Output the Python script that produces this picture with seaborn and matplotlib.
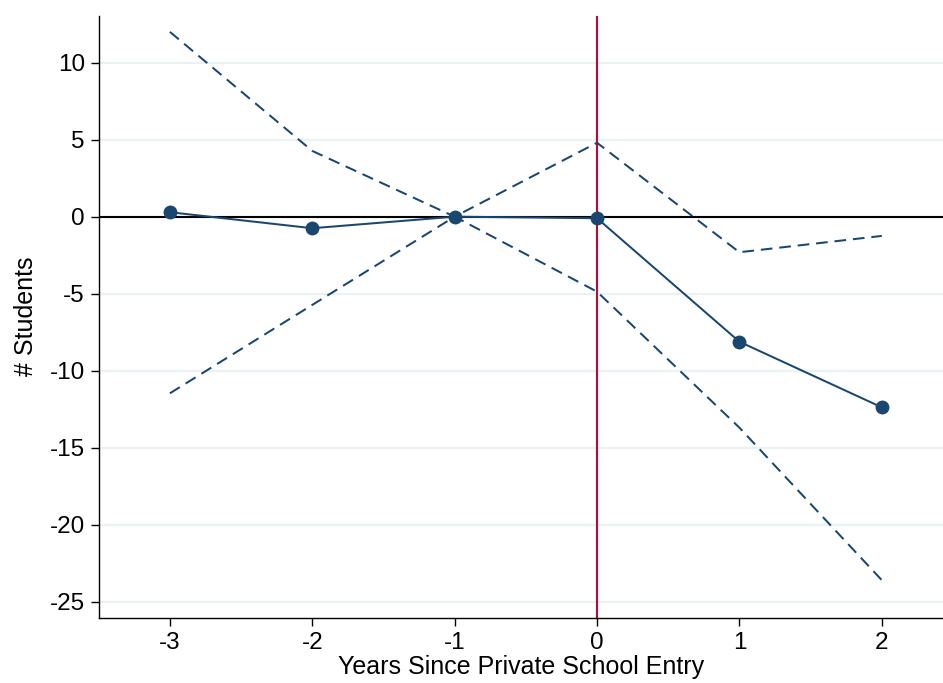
import matplotlib
matplotlib.use("Agg")
import matplotlib.pyplot as plt
import seaborn as sns
import pandas as pd

years = [-3, -2, -1, 0, 1, 2]
estimate = [0.29, -0.75, 0.0, -0.1, -8.12, -12.38]
upper_ci = [12.0, 4.27, 0.0, 4.8, -2.31, -1.25]
lower_ci = [-11.47, -5.73, 0.0, -4.87, -13.7, -23.6]
yticks = [10, 5, 0, -5, -10, -15, -20, -25]

sns.set_theme(style="white")
plt.rcParams['font.family'] = ['Liberation Sans', 'DejaVu Sans']
plt.rcParams['text.color'] = 'black'
plt.rcParams['axes.labelcolor'] = 'black'
plt.rcParams['xtick.color'] = 'black'
plt.rcParams['ytick.color'] = 'black'

navy = "#1a476f"
df = pd.DataFrame({"year": years, "est": estimate, "hi": upper_ci, "lo": lower_ci})

fig = plt.figure(figsize=(9.43, 6.83), dpi=100)
ax = fig.add_axes([98.7/943, 1 - 617.7/683, 1 - 98.7/943, (617.7 - 15.7)/683])

for t in yticks:
    ax.axhline(t, color="#eaf2f3", lw=1.6, zorder=0)

ax.axhline(0, color="black", lw=1.5, zorder=1)
ax.axvline(0, color="#c10534", lw=1.5, zorder=1)

sns.lineplot(data=df, x="year", y="hi", ax=ax, color=navy, lw=1.45, zorder=2)
sns.lineplot(data=df, x="year", y="lo", ax=ax, color=navy, lw=1.45, zorder=2)
for ln in ax.lines[-2:]:
    ln.set_dashes((5.8, 3.4))
sns.lineplot(data=df, x="year", y="est", ax=ax, color=navy, lw=1.45,
             marker="o", markersize=10, markeredgewidth=0, zorder=3)

ax.set_xlim(-3.50, 2.43)
ax.set_ylim(-26.04, 13.05)
ax.set_xticks(years)
ax.set_xticklabels([str(y) for y in years])
ax.set_yticks(yticks)
ax.set_yticklabels([str(t) for t in yticks])
ax.set_xlabel("Years Since Private School Entry", fontsize=18, labelpad=1)
ax.set_ylabel("# Students", fontsize=18, labelpad=8)
ax.tick_params(axis="both", labelsize=17.5, length=6, width=1,
               direction="out", left=True, bottom=True, pad=4)
for s in ["top", "right"]:
    ax.spines[s].set_visible(False)
for s in ["left", "bottom"]:
    ax.spines[s].set_color("black")
    ax.spines[s].set_linewidth(1)
ax.grid(False)

fig.savefig("out.png", dpi=100)
